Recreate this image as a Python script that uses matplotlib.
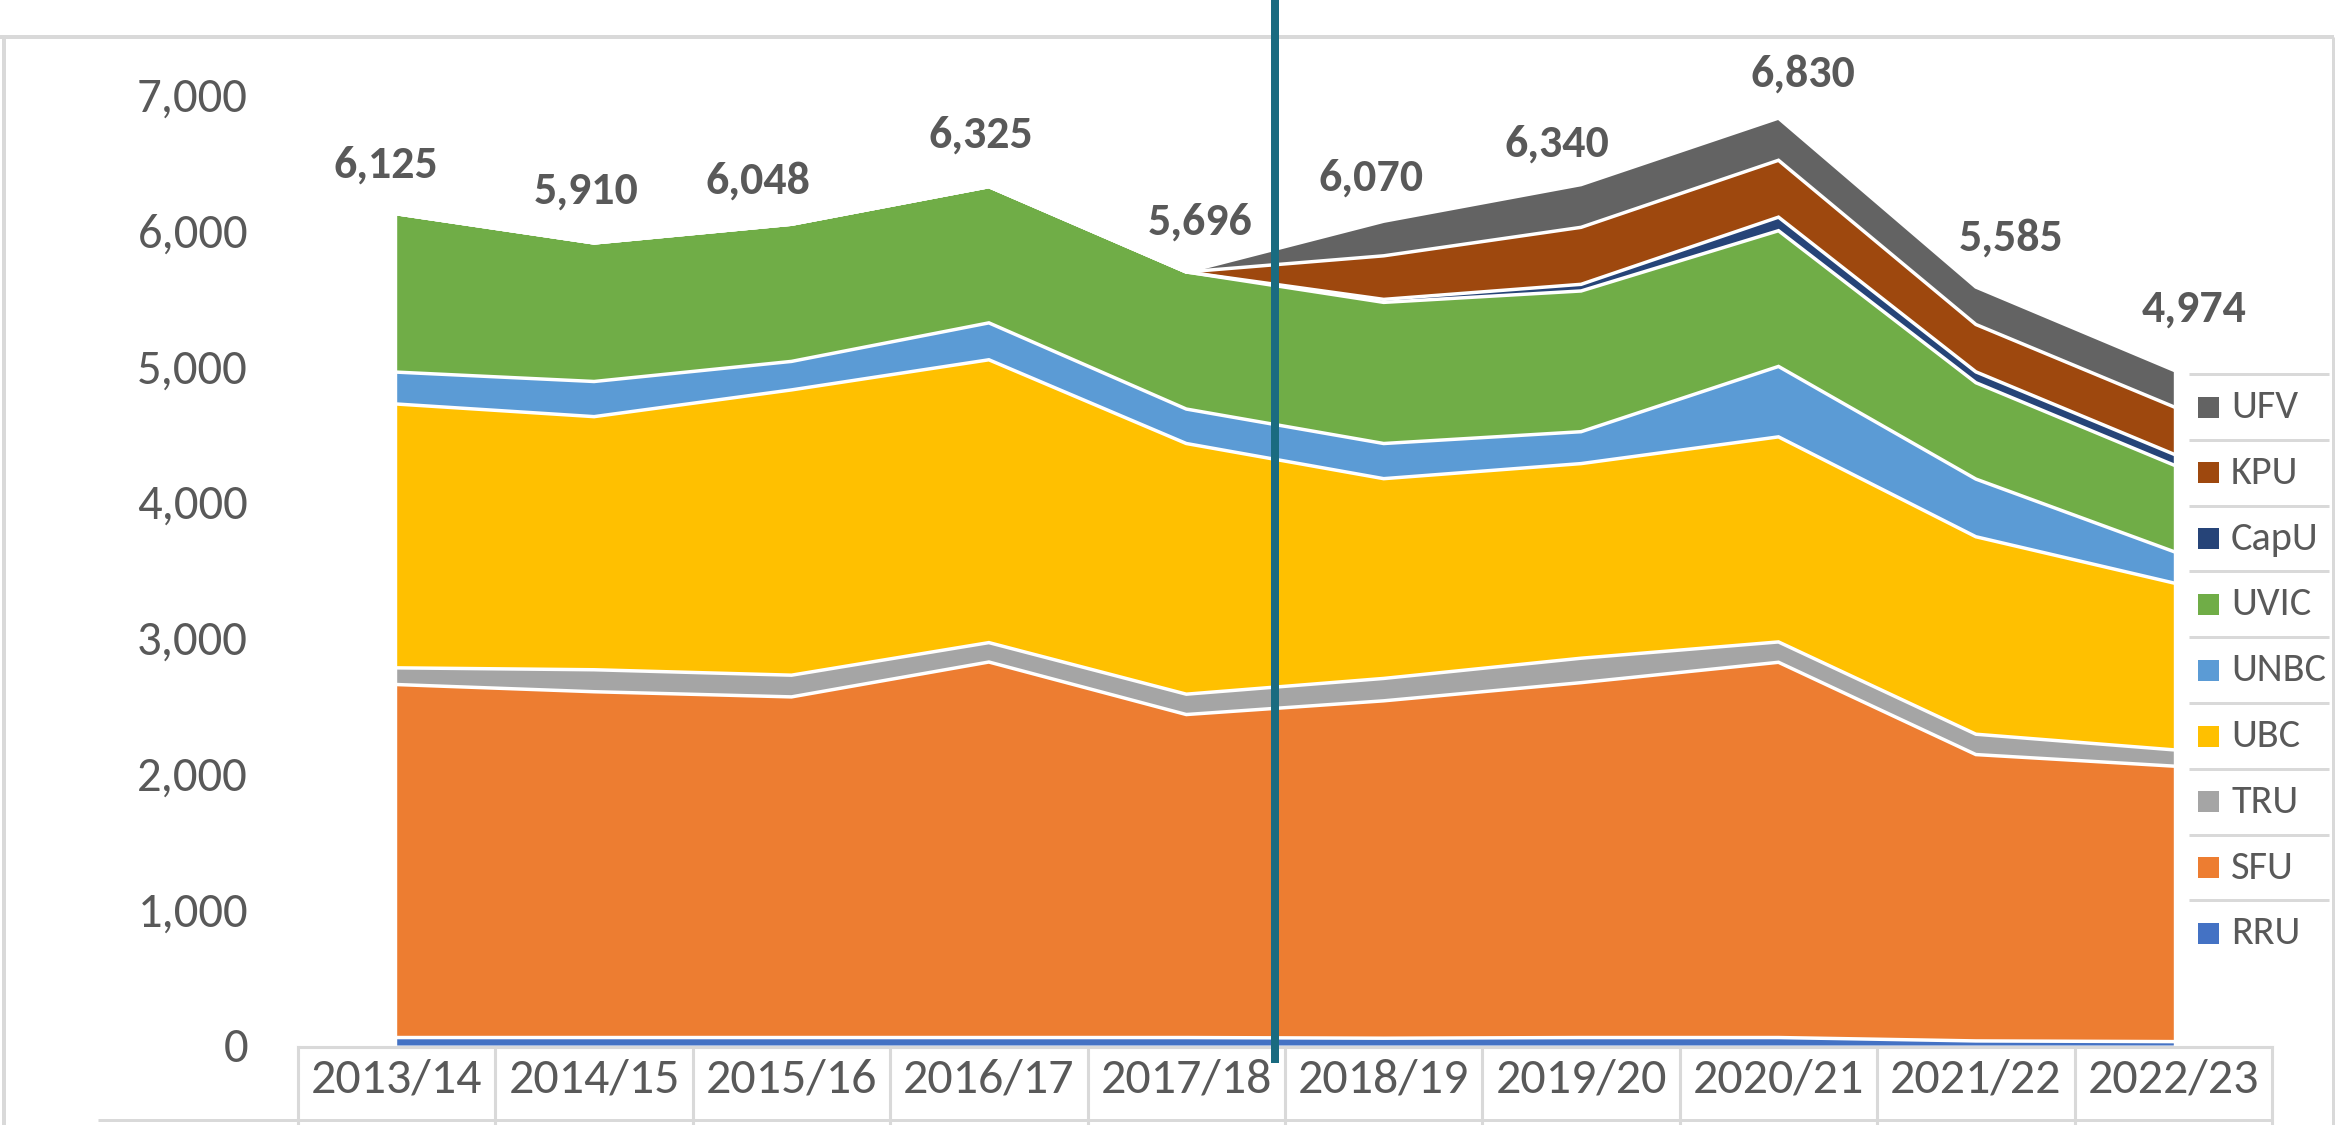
import matplotlib
matplotlib.use("Agg")
import matplotlib.pyplot as plt
from matplotlib import font_manager
from matplotlib.lines import Line2D
from matplotlib.patches import Rectangle
from matplotlib.ticker import FuncFormatter
import numpy as np

# ---------------- data ----------------
years = ["2013/14", "2014/15", "2015/16", "2016/17", "2017/18",
         "2018/19", "2019/20", "2020/21", "2021/22", "2022/23"]

RRU  = [55, 55, 55, 55, 55, 50, 55, 55, 30, 25]
SFU  = [2601, 2548, 2510, 2767, 2380, 2486, 2615, 2765, 2110, 2030]
TRU  = [123, 162, 160, 143, 150, 165, 180, 150, 150, 120]
UBC  = [1944, 1865, 2102, 2084, 1847, 1472, 1434, 1511, 1455, 1230]
UNBC = [235, 259, 210, 272, 254, 259, 235, 519, 425, 232]
UVIC = [1167, 1021, 1011, 1004, 1010, 1040, 1037, 1000, 710, 638]
CapU = [0, 0, 0, 0, 0, 22, 49, 100, 80, 80]
KPU  = [0, 0, 0, 0, 0, 321, 420, 419, 349, 349]
UFV  = [0, 0, 0, 0, 0, 255, 315, 311, 276, 270]

series_names = ["RRU", "SFU", "TRU", "UBC", "UNBC", "UVIC", "CapU", "KPU", "UFV"]
series_values = [RRU, SFU, TRU, UBC, UNBC, UVIC, CapU, KPU, UFV]
colors = ["#4472C4", "#ED7D31", "#A5A5A5", "#FFC000", "#5B9BD5",
          "#70AD47", "#264478", "#9E480E", "#636363"]

y_ticks = [0, 1000, 2000, 3000, 4000, 5000, 6000, 7000]

# label offsets (pixels) of the total labels relative to the stack top
label_dx = [-11, -8, -34, -8, 14, -13, -24, 24, 35, 21]
label_dy = [49, 52, 44, 52, 50, 44, 41, 44, 49, 61]

# ---------------- fonts ----------------
names = {f.name for f in font_manager.fontManager.ttflist}
if "Carlito" in names:
    family = "Carlito"
    fs_y, fs_x, fs_lab, fs_leg, pad_x = 35, 36, 33, 29, 9.5
else:
    family = "Lato"
    fs_y, fs_x, fs_lab, fs_leg, pad_x = 32, 33, 31, 28, 10
plt.rcParams["font.family"] = [family, "DejaVu Sans"]

TXT = "#595959"
GRID = "#D9D9D9"

W, H = 2338, 1125
fig = plt.figure(figsize=(W / 100, H / 100), dpi=100)

# axes: x -0.5..9.5 spans px 298..2272 ; y 0..7000 spans px 1045..95
ax_left, ax_right = 298, 2272
ax_bottom, ax_top = 1045, 95
ax = fig.add_axes([ax_left / W, 1 - ax_bottom / H,
                   (ax_right - ax_left) / W, (ax_bottom - ax_top) / H])

x = np.arange(len(years))
vals = np.array(series_values, dtype=float)
cum = np.cumsum(vals, axis=0)
base = np.vstack([np.zeros(len(years)), cum[:-1]])

for i in range(len(series_names)):
    ax.fill_between(x, base[i], cum[i], color=colors[i], linewidth=0, zorder=2)
for i in range(len(series_names)):
    ax.plot(x, cum[i], color="white", linewidth=2.5, zorder=3,
            solid_joinstyle="miter")

ax.set_xlim(-0.5, len(years) - 0.5)
ax.set_ylim(0, 7000)
for s in ax.spines.values():
    s.set_visible(False)

ax.set_yticks(y_ticks)
ax.yaxis.set_major_formatter(FuncFormatter(lambda v, p: f"{int(v):,}"))
ax.tick_params(axis="y", length=0, pad=36, labelsize=fs_y, labelcolor=TXT)
ax.set_xticks(x)
ax.set_xticklabels(years)
ax.tick_params(axis="x", length=0, pad=pad_x, labelsize=fs_x, labelcolor=TXT)

# category boxes
h_ax = ax_bottom - ax_top
trans = ax.get_xaxis_transform()
y_box_top = -2 / h_ax
y_fig_bot = -(H - ax_bottom) / h_ax
ax.plot([-0.5, len(years) - 0.5], [y_box_top, y_box_top], transform=trans,
        color=GRID, lw=2.2, clip_on=False, zorder=1)
for k in range(len(years) + 1):
    xs = k - 0.5
    ax.plot([xs, xs], [y_box_top, y_fig_bot], transform=trans,
            color=GRID, lw=2.2, clip_on=False, zorder=1)

# total labels
totals = cum[-1]
for i, t in enumerate(totals):
    ax.annotate(f"{int(round(t)):,}", xy=(x[i], t),
                xytext=(label_dx[i], label_dy[i]), textcoords="offset pixels",
                ha="center", va="center", fontsize=fs_lab, fontweight="bold",
                color=TXT, zorder=5, annotation_clip=False)

# chart border (figure pixels)
def fig_line(x0, y0, x1, y1, color, lw_px):
    fig.add_artist(Line2D([x0 / W, x1 / W], [1 - y0 / H, 1 - y1 / H],
                          transform=fig.transFigure, color=color,
                          linewidth=lw_px * 0.72, solid_capstyle="butt"))

fig_line(0, 37, 2334, 37, GRID, 4)
fig_line(4, 37, 4, H, GRID, 4)
fig_line(2333, 37, 2333, H, GRID, 3)
fig_line(98, 1120, ax_right, 1120, GRID, 3)

# legend (custom, top entry = UFV)
leg_x_marker = 2198
leg_x_text = 2231
for k, idx in enumerate(range(len(series_names) - 1, -1, -1)):
    cy = 407 + 65.8 * k
    fig_line(2189, cy - 33, 2329, cy - 33, GRID, 3)
    fig.add_artist(Rectangle((leg_x_marker / W, 1 - (cy + 10.5) / H),
                             21 / W, 21 / H, transform=fig.transFigure,
                             facecolor=colors[idx], edgecolor="none"))
    fig.text(leg_x_text / W, 1 - cy / H, series_names[idx], fontsize=fs_leg,
             color=TXT, ha="left", va="center")

# separator line between 2017/18 and 2018/19
fig_line(1275, 0, 1275, 1063, "#1A6B80", 8)

fig.savefig("out.png", dpi=100, facecolor="white")
